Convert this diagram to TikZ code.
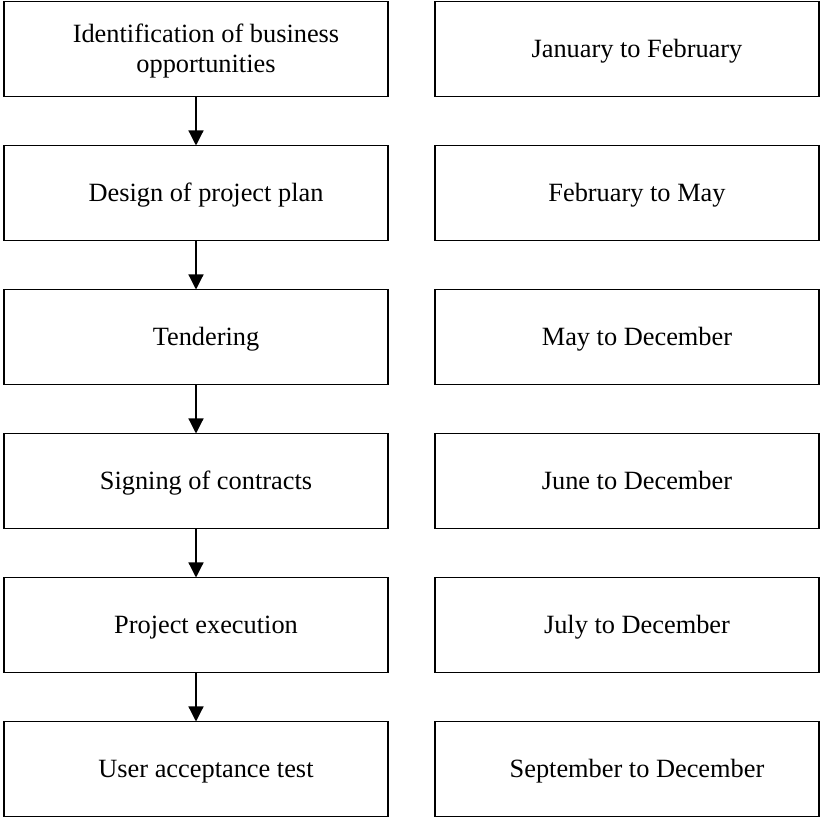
\documentclass[tikz,border=0pt]{standalone}
\usepackage{fontspec}
\setmainfont{Liberation Serif}
\usetikzlibrary{
    arrows.meta,
    positioning
}
\newcommand{\boxtext}[1]{\raisebox{0pt}[\dimexpr\height-2.2pt\relax][0pt]{\hspace*{4mm}\begin{tabular}[b]{@{}c@{}}#1\end{tabular}}}
\tikzset{
    phase/.style={draw, rectangle, line width=0.7pt, minimum width=7.68cm,
        minimum height=1.9cm, inner sep=0pt, outer sep=0pt,
        font=\fontsize{15}{17.3}\selectfont},
    flow/.style={-{Triangle[width=3mm,length=3mm]}, line width=0.7pt}
}

\begin{document}
\begin{tikzpicture}
                \useasboundingbox (0,0) rectangle (16.4,16.38);
                % steps
                \node[phase] (s1) at (3.92,15.40) {\boxtext{Identification of business\\opportunities}};
                \node[phase] (s2) at (3.92,12.52) {\boxtext{Design of project plan}};
                \node[phase] (s3) at (3.92,9.64) {\boxtext{Tendering}};
                \node[phase] (s4) at (3.92,6.76) {\boxtext{Signing of contracts}};
                \node[phase] (s5) at (3.92,3.88) {\boxtext{Project execution}};
                \node[phase] (s6) at (3.92,1.00) {\boxtext{User acceptance test}};
                % time frames
                \node[phase] (d1) at (12.54,15.40) {\boxtext{January to February}};
                \node[phase] (d2) at (12.54,12.52) {\boxtext{February to May}};
                \node[phase] (d3) at (12.54,9.64) {\boxtext{May to December}};
                \node[phase] (d4) at (12.54,6.76) {\boxtext{June to December}};
                \node[phase] (d5) at (12.54,3.88) {\boxtext{July to December}};
                \node[phase] (d6) at (12.54,1.00) {\boxtext{September to December}};

                \draw[flow] (s1) -- (s2);
                \draw[flow] (s2) -- (s3);
                \draw[flow] (s3) -- (s4);
                \draw[flow] (s4) -- (s5);
                \draw[flow] (s5) -- (s6);
            \end{tikzpicture}
\end{document}
